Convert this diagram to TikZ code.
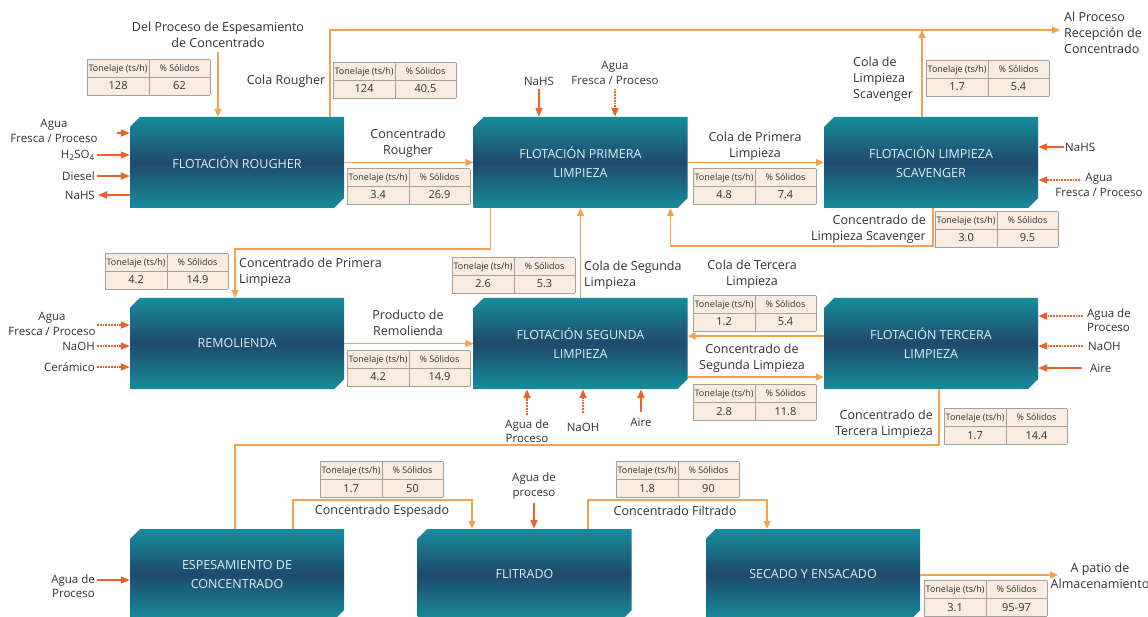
\documentclass[tikz,border=0pt]{standalone}
\usepackage{fontspec}
\setmainfont{Open Sans}
\usepackage{colortbl}
\usetikzlibrary{arrows.meta}
\usetikzlibrary{calc}
\usetikzlibrary{shapes.misc}
\definecolor{naranja}{RGB}{243,162,80}
\definecolor{rojizo}{RGB}{232,98,44}
\definecolor{tealclaro}{RGB}{22,140,155}
\definecolor{azuloscuro}{RGB}{31,74,108}
\definecolor{crema}{RGB}{248,236,224}
\definecolor{bordegris}{RGB}{165,160,155}
\definecolor{textogris}{RGB}{50,50,50}
\definecolor{textocaja}{RGB}{222,240,244}

\newcommand{\encab}{\rule[-5pt]{0pt}{17pt}\fontsize{9}{10}\selectfont}
\newcommand{\valor}{\rule[-5pt]{0pt}{18pt}\fontsize{11}{12}\selectfont}
\newcommand{\tabla}[2]{{\setlength{\tabcolsep}{0pt}\renewcommand{\arraystretch}{0.5}\arrayrulecolor{bordegris}%
\begin{tabular}{|>{\centering\arraybackslash}p{61pt}|>{\centering\arraybackslash}p{61pt}|}\hline
\encab Tonelaje (ts/h) & \encab \% Sólidos\\\hline
\valor #1 & \valor #2\\\hline
\end{tabular}}}

\begin{document}
\begin{tikzpicture}[x=1pt,y=-1pt,
	caja/.style={chamfered rectangle,chamfered rectangle corners={north west,south east},
		chamfered rectangle xsep=5pt,chamfered rectangle ysep=5pt,
		minimum width=214pt,minimum height=91pt,inner sep=0pt,
		top color=tealclaro,bottom color=tealclaro,middle color=azuloscuro,
		text=textocaja,align=center,font=\fontsize{12.5}{19}\selectfont},
	etiq/.style={text=textogris,align=center,inner sep=0pt,font=\fontsize{12.5}{16}\selectfont},
	rotulo/.style={etiq,font=\fontsize{11.5}{14.5}\selectfont},
	tabla/.style={fill=crema,inner sep=0pt,anchor=north west,text=textogris},
	linea/.style={draw=naranja,line width=1.6pt},
	flujo/.style={linea,-{Triangle[length=8pt,width=7pt]}},
	entrada/.style={draw=rojizo,line width=1.8pt,-{Triangle[length=9pt,width=7pt]}},
	punteada/.style={entrada,densely dotted}]
	\useasboundingbox[fill=white] (0,0) rectangle (1148,617);

	% procesos
	\node[caja] (0) at (237,162.5) {FLOTACIÓN ROUGHER};
	\node[caja] (1) at (580.5,162.5) {FLOTACIÓN PRIMERA\\LIMPIEZA};
	\node[caja] (2) at (931,162.5) {FLOTACIÓN LIMPIEZA\\SCAVENGER};
	\node[caja] (3) at (237,343.5) {REMOLIENDA};
	\node[caja] (4) at (580.5,343.5) {FLOTACIÓN SEGUNDA\\LIMPIEZA};
	\node[caja] (5) at (931,343.5) {FLOTACIÓN TERCERA\\LIMPIEZA};
	\node[caja] (6) at (237,574.5) {ESPESAMIENTO DE\\CONCENTRADO};
	\node[caja] (7) at (524.5,574.5) {FLITRADO};
	\node[caja] (8) at (813,574.5) {SECADO Y ENSACADO};

	% tablas
	\node[tabla] (t0) at (87,59) {\tabla{128}{62}};
	\node[tabla] (t1) at (333,62) {\tabla{124}{40.5}};
	\node[tabla] (t2) at (926,60) {\tabla{1.7}{5.4}};
	\node[tabla] (t3) at (347,168) {\tabla{3.4}{26.9}};
	\node[tabla] (t4) at (693,168) {\tabla{4.8}{7.4}};
	\node[tabla] (t5) at (935,211) {\tabla{3.0}{9.5}};
	\node[tabla] (t6) at (105,253) {\tabla{4.2}{14.9}};
	\node[tabla] (t7) at (452,257) {\tabla{2.6}{5.3}};
	\node[tabla] (t8) at (693,295) {\tabla{1.2}{5.4}};
	\node[tabla] (t9) at (347,350) {\tabla{4.2}{14.9}};
	\node[tabla] (t10) at (693,384) {\tabla{2.8}{11.8}};
	\node[tabla] (t11) at (944,408) {\tabla{1.7}{14.4}};
	\node[tabla] (t12) at (320,461) {\tabla{1.7}{50}};
	\node[tabla] (t13) at (616,461) {\tabla{1.8}{90}};
	\node[tabla] (t14) at (924,580) {\tabla{3.1}{95-97}};

	% rotulos de flujo
	\node[etiq] (delproc) at (218,35) {Del Proceso de Espesamiento\\de Concentrado};
	\node[etiq] (colaro) at (286,81) {Cola Rougher};
	\node[etiq,align=left,anchor=west] (alproc) at (1064,33) {Al Proceso\\Recepción de\\Concentrado};
	\node[etiq,align=left,anchor=west] (colasc) at (853,79) {Cola de\\Limpieza\\Scavenger};
	\node[etiq] (concro) at (408,143) {Concentrado\\Rougher};
	\node[etiq] (colapl) at (755,146) {Cola de Primera\\Limpieza};
	\node[etiq,align=right,anchor=east] (concsc) at (926,229) {Concentrado de\\Limpieza Scavenger};
	\node[etiq,align=left,anchor=west] (concpl) at (239,272) {Concentrado de Primera\\Limpieza};
	\node[etiq,align=left,anchor=west] (colasl) at (584,275) {Cola de Segunda\\Limpieza};
	\node[etiq] (colatl) at (752,274) {Cola de Tercera\\Limpieza};
	\node[etiq] (prodre) at (408,323) {Producto de\\Remolienda};
	\node[etiq] (concsl) at (752,358) {Concentrado de\\Segunda Limpieza};
	\node[etiq,align=right,anchor=east] (conctl) at (933,424) {Concentrado de\\Tercera Limpieza};
	\node[etiq] (concesp) at (382,511) {Concentrado Espesado};
	\node[etiq] (concfil) at (675,511) {Concentrado Filtrado};
	\node[etiq] (patio) at (1100,576) {A patio de\\Almacenamiento};

	% flujos principales
	\coordinate (alp) at (1060,30);
	\coordinate (pat) at (1058,575);
	\draw[flujo,shorten <=4pt] (delproc.south) -- (delproc.south |- 0.north);
	\draw[flujo] ([xshift=93pt]0.north) |- (alp);
	\draw[flujo] ([xshift=-9pt]2.north) -- ([xshift=-9pt]2.north |- alp);
	\draw[flujo] (0.east) -- (1.west);
	\draw[flujo] (1.east) -- (2.west);
	\draw[flujo] ([xshift=2pt]2.south) -- ++(0,38) -| ([xshift=90pt]1.south);
	\draw[flujo] ([xshift=-90pt]1.south) -- ++(0,41) -| ([xshift=-2pt]3.north);
	\draw[flujo] (4.north) -- (1.south);
	\draw[flujo] (3.east) -- (4.west);
	\draw[flujo] ([yshift=7.5pt]5.west) -- ([yshift=7.5pt]4.east);
	\draw[flujo] ([yshift=-33.5pt]4.east) -- ([yshift=-33.5pt]5.west);
	\draw[linea] ([xshift=8pt]5.south) -- ++(0,56) -| ([xshift=-2pt]6.north);
	\draw[flujo] ([xshift=56pt]6.north) -- ++(0,-29) -| ([xshift=-52.5pt]7.north);
	\draw[flujo] ([xshift=63.5pt]7.north) -- ++(0,-29) -| ([xshift=-46pt]8.north);
	\draw[flujo] (8.east |- pat) -- (pat);

	% entradas de reactivos
	\node[rotulo] (agua0) at (54,131) {Agua\\Fresca / Proceso};
	\node[rotulo,anchor=east] (h2so4) at (95,155) {H\textsubscript{2}SO\textsubscript{4}};
	\node[rotulo,anchor=east] (diesel) at (95,176) {Diesel};
	\node[rotulo,anchor=east] (nahs0) at (95,195) {NaHS};
	\coordinate (a0) at (117,133);
	\draw[entrada] (a0) -- (a0 -| 0.west);
	\draw[entrada,shorten <=2pt] (h2so4.east) -- (h2so4.east -| 0.west);
	\draw[entrada,shorten <=2pt] (diesel.east) -- (diesel.east -| 0.west);
	\draw[entrada,shorten >=3pt] (nahs0.east -| 0.west) -- (nahs0.east);

	\node[rotulo] (nahs1) at (539,81) {NaHS};
	\node[rotulo] (agua1) at (615,73) {Agua\\Fresca / Proceso};
	\draw[entrada,shorten <=4pt] (nahs1.south) -- (nahs1.south |- 1.north);
	\draw[punteada,shorten <=4pt] (agua1.south) -- (agua1.south |- 1.north);

	\node[rotulo,anchor=west] (nahs2) at (1065,147) {NaHS};
	\node[rotulo] (agua2) at (1099,185) {Agua\\Fresca / Proceso};
	\coordinate (a2) at (1080,180);
	\draw[entrada,shorten <=1pt] (nahs2.west) -- (nahs2.west -| 2.east);
	\draw[punteada] (a2) -- (a2 -| 2.east);

	\node[rotulo] (agua3) at (52,324) {Agua\\Fresca / Proceso};
	\node[rotulo,anchor=east] (naoh3) at (95,346) {NaOH};
	\node[rotulo,anchor=east] (ceram) at (95,367) {Cerámico};
	\coordinate (a3) at (97,325);
	\draw[punteada] (a3) -- (a3 -| 3.west);
	\draw[punteada,shorten <=2pt] (naoh3.east) -- (naoh3.east -| 3.west);
	\draw[punteada,shorten <=2pt] (ceram.east) -- (ceram.east -| 3.west);

	\node[rotulo] (agua4) at (527,431) {Agua de\\Proceso};
	\node[rotulo] (naoh4) at (583,427) {NaOH};
	\node[rotulo] (aire4) at (641,422) {Aire};
	\draw[punteada,shorten <=4pt] (agua4.north) -- (agua4.north |- 4.south);
	\draw[punteada,shorten <=10pt] (naoh4.north) -- (naoh4.north |- 4.south);
	\draw[entrada,shorten <=6pt] (aire4.north) -- (aire4.north |- 4.south);

	\node[rotulo,align=left,anchor=west] (agua5) at (1087,320) {Agua de\\Proceso};
	\node[rotulo,anchor=west] (naoh5) at (1088,346) {NaOH};
	\node[rotulo,anchor=west] (aire5) at (1090,368) {Aire};
	\coordinate (a5) at (1083,316);
	\draw[punteada] (a5) -- (a5 -| 5.east);
	\draw[punteada,shorten <=5pt] (naoh5.west) -- (naoh5.west -| 5.east);
	\draw[entrada,shorten <=8pt] (aire5.west) -- (aire5.west -| 5.east);

	\node[rotulo,align=right,anchor=east] (agua6) at (95,586) {Agua de\\Proceso};
	\coordinate (a6) at (97,580);
	\draw[entrada] (a6) -- (a6 -| 6.west);

	\node[rotulo] (agua7) at (534,486) {Agua de\\proceso};
	\draw[entrada,shorten <=4pt] (agua7.south) -- (agua7.south |- 7.north);
\end{tikzpicture}
\end{document}
